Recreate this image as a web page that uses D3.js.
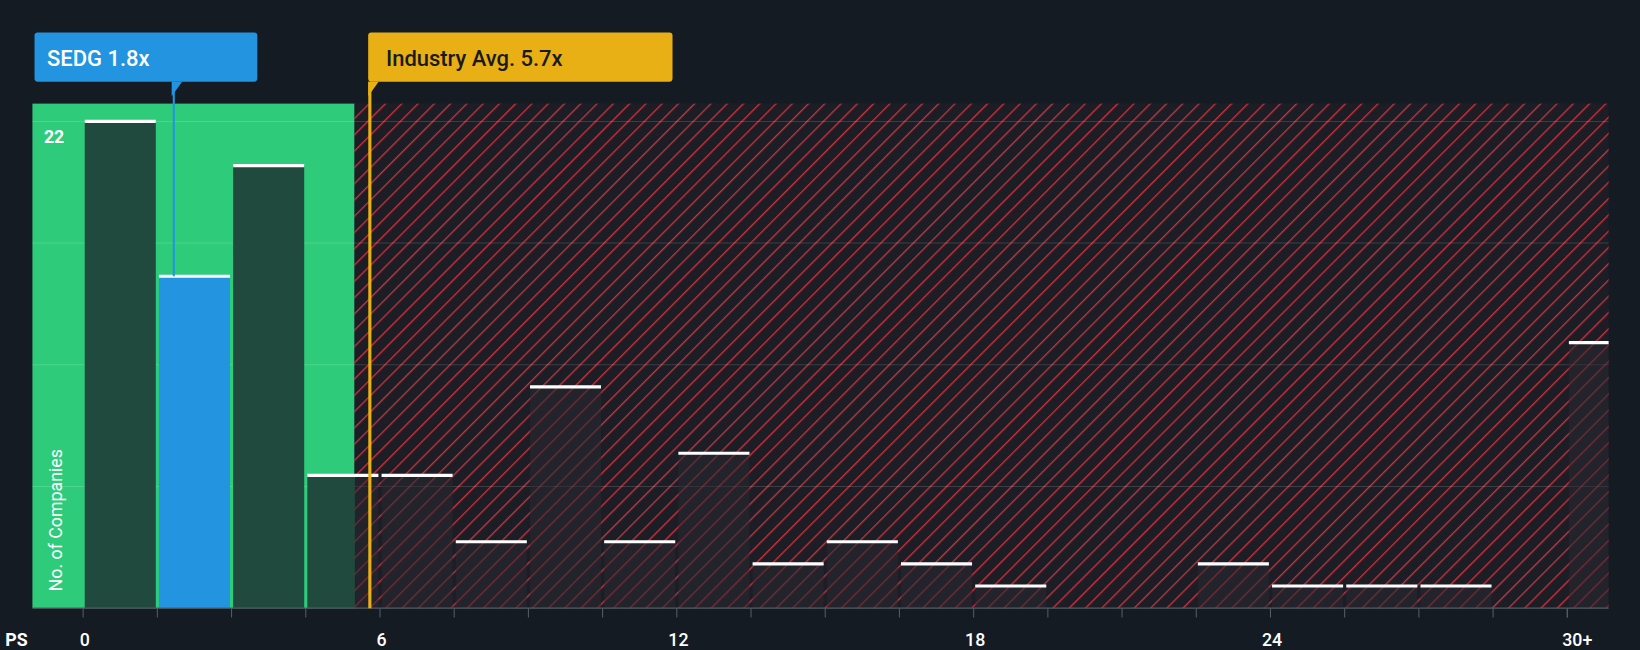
<!DOCTYPE html><html><head><meta charset="utf-8">
<script src="https://cdn.jsdelivr.net/npm/d3@7"></script>
<style>body{margin:0;background:#151b23}svg{display:block}</style></head><body>
<script>
const binStarts=[0,1.5,3,4.5,6,7.5,9,10.5,12,13.5,15,16.5,18,19.5,21,22.5,24,25.5,27,28.5,30];
const counts=[22,15,20,6,6,3,10,3,7,2,3,2,1,0,0,2,1,1,1,0,12];
const xTicks=[0,6,12,18,24,30];
const xTickLabels=["0","6","12","18","24","30+"];
const yGrid=[5.5,11,16.5,22];
const company={name:"SEDG",value:1.8}, industry={name:"Industry Avg.",value:5.7};
const W=1640,H=650,sx=W/1568,sy=H/621;
const svg=d3.select("body").append("svg").attr("width",W).attr("height",H);
svg.append("rect").attr("width",W).attr("height",H).attr("fill","#151b23");
const g=svg.append("g").attr("transform",`scale(${sx},${sy})`);
const x=d3.scaleLinear().domain([0,30]).range([81,1500]);
const y=d3.scaleLinear().domain([0,22]).range([581,116]);
const defs=svg.append("defs");
const p=defs.append("pattern").attr("id","hatch").attr("patternUnits","userSpaceOnUse").attr("width",11).attr("height",11).attr("patternTransform","rotate(45)");
p.append("rect").attr("width",11).attr("height",11).attr("fill","#1c1d25");
p.append("line").attr("x1",0).attr("y1",0).attr("x2",0).attr("y2",11).attr("stroke","#c8323c").attr("stroke-width",2.6);
const greenEnd=339, plotTop=99, right=1538;
g.append("rect").attr("x",31).attr("y",plotTop).attr("width",greenEnd-31).attr("height",581-plotTop).attr("fill","#2ecc7a");
g.append("rect").attr("x",greenEnd).attr("y",plotTop).attr("width",right-greenEnd).attr("height",581-plotTop).attr("fill","url(#hatch)");
g.selectAll(".gl").data(yGrid).join("line").attr("x1",31).attr("x2",right).attr("y1",d=>y(d)).attr("y2",d=>y(d)).attr("stroke","rgba(255,255,255,0.15)");
const bw=x(1.5)-x(0)-3;
binStarts.forEach((b,i)=>{
  const v=counts[i]; if(!v) return;
  const x0=x(b), w=Math.min(bw,right-x0);
  const isCo=company.value>=b&&company.value<b+1.5;
  const fill=isCo?"#2394df":(b<6?"#1f4a3d":"rgba(40,40,50,0.55)");
  if(b===4.5){
    g.append("rect").attr("x",x0).attr("y",y(v)).attr("width",greenEnd-x0).attr("height",581-y(v)).attr("fill","#1f4a3d");
    g.append("rect").attr("x",greenEnd).attr("y",y(v)).attr("width",x0+w-greenEnd).attr("height",581-y(v)).attr("fill","rgba(40,40,50,0.55)");
  } else g.append("rect").attr("x",x0).attr("y",y(v)).attr("width",w).attr("height",581-y(v)).attr("fill",fill);
  g.append("line").attr("x1",x0).attr("x2",x0+w).attr("y1",y(v)).attr("y2",y(v)).attr("stroke","#fff").attr("stroke-width",3);
});
g.append("line").attr("x1",31).attr("x2",right).attr("y1",581).attr("y2",581).attr("stroke","#555c66");
binStarts.concat([30]).forEach(b=>g.append("line").attr("x1",x(b)-1.5).attr("x2",x(b)-1.5).attr("y1",581).attr("y2",590).attr("stroke","#555c66"));
g.selectAll(".xt").data(xTicks).join("text").attr("x",d=>x(d)+(d===30?8:0)).attr("y",617).attr("text-anchor","middle").attr("fill","#fff").attr("font-family","Roboto").attr("font-weight",500).attr("font-size",17).text((d,i)=>xTickLabels[i]);
g.append("text").attr("x",5).attr("y",617).attr("fill","#fff").attr("font-family","Roboto").attr("font-size",17).attr("font-weight",700).text("PS");
g.append("text").attr("x",42).attr("y",137).attr("fill","#fff").attr("font-family","Roboto").attr("font-size",17).attr("font-weight",700).text("22");
g.append("text").attr("transform","translate(59,565) rotate(-90)").attr("fill","#fff").attr("font-family","Roboto").attr("font-size",17).text("No. of Companies");
g.append("line").attr("x1",x(company.value)).attr("x2",x(company.value)).attr("y1",78).attr("y2",264).attr("stroke","#2394df").attr("stroke-width",2);
g.append("rect").attr("x",33).attr("y",31).attr("width",213).attr("height",47).attr("rx",3).attr("fill","#2394df");
g.append("path").attr("d",`M${x(company.value)-2},78 L${x(company.value)+8},78 L${x(company.value)-2},92Z`).attr("fill","#2394df");
g.append("text").attr("x",45).attr("y",63).attr("fill","#fff").attr("font-family","Roboto").attr("font-weight",500).attr("font-size",21).text(`${company.name} ${company.value}x`);
const xi=x(industry.value)+3;
g.append("line").attr("x1",xi).attr("x2",xi).attr("y1",78).attr("y2",581).attr("stroke","#e8b015").attr("stroke-width",3);
g.append("rect").attr("x",352).attr("y",31).attr("width",291).attr("height",47).attr("rx",3).attr("fill","#e8b015");
g.append("path").attr("d",`M352,78 L362,78 L352,92Z`).attr("fill","#e8b015");
g.append("text").attr("x",369).attr("y",63).attr("fill","#1a1a1a").attr("font-family","Roboto").attr("font-weight",500).attr("font-size",21).text(`${industry.name} ${industry.value}x`);
</script></body></html>
